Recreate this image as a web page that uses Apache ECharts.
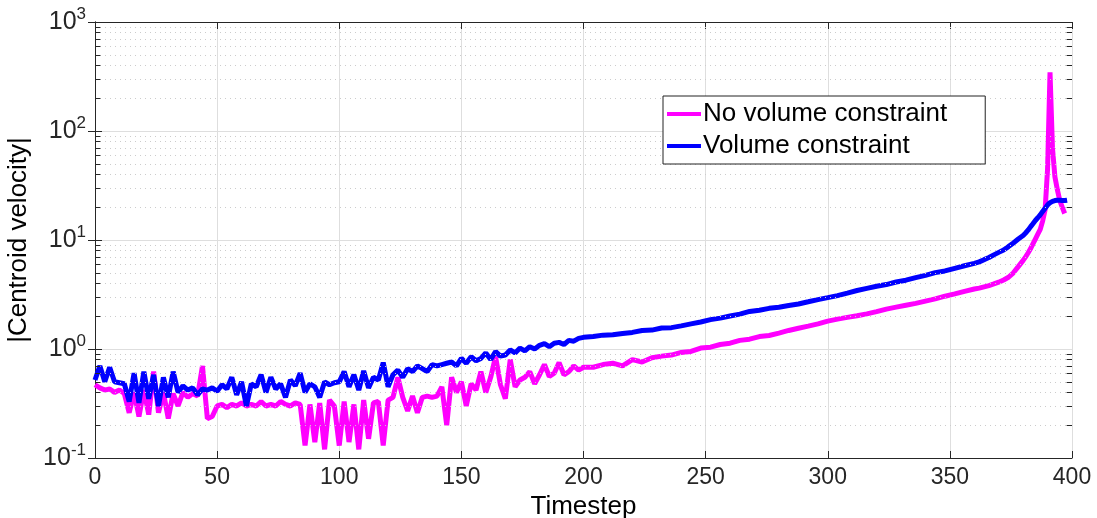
<!DOCTYPE html>
<html>
<head>
<meta charset="utf-8">
<script src="https://cdn.jsdelivr.net/npm/echarts@6/dist/echarts.min.js"></script>
<style>html,body{margin:0;padding:0;background:#fff}#c{width:1097px;height:518px}</style>
</head>
<body>
<div id="c"></div>
<script>
// ---- data ----
const timesteps = [
  0,2,4,6,8,10,12,14,16,18,
  20,22,24,26,28,30,32,34,36,38,
  40,42,44,46,48,50,52,54,56,58,
  60,62,64,66,68,70,72,74,76,78,
  80,82,84,86,88,90,92,94,96,98,
  100,102,104,106,108,110,112,114,116,118,
  120,122,124,126,128,130,132,134,136,138,
  140,142,144,146,148,150,152,154,156,158,
  160,162,164,166,168,170,172,174,176,178,
  180,182,184,186,188,190,192,194,196,198,
  200,
  204,208,212,216,220,224,228,232,236,240,
  244,248,252,256,260,264,268,272,276,280,
  284,288,292,296,300,304,308,312,316,320,
  324,328,332,336,340,344,348,352,356,360,
  362,364,366,368,370,372,374,376,378,380,
  381,382,383,384,385,386,387,388,389,390,
  391,392,393,394,395,396,397,398
];
const noVolumeConstraint = [
  0.47,0.44,0.42,0.43,0.40,0.42,0.39,0.26,0.40,0.24,
  0.42,0.25,0.62,0.26,0.40,0.23,0.39,0.30,0.40,0.36,
  0.39,0.37,0.70,0.23,0.24,0.30,0.31,0.29,0.31,0.30,
  0.32,0.30,0.31,0.30,0.33,0.30,0.31,0.30,0.33,0.31,
  0.30,0.32,0.31,0.13,0.31,0.14,0.32,0.12,0.34,0.30,
  0.13,0.33,0.14,0.31,0.12,0.34,0.15,0.32,0.33,0.13,
  0.34,0.36,0.55,0.36,0.27,0.37,0.26,0.36,0.37,0.36,
  0.37,0.45,0.20,0.55,0.40,0.50,0.30,0.48,0.42,0.62,
  0.40,0.55,0.85,0.47,0.35,0.80,0.45,0.52,0.55,0.62,
  0.48,0.58,0.72,0.56,0.60,0.75,0.58,0.62,0.70,0.64,
  0.68,
  0.68,0.72,0.74,0.70,0.80,0.76,0.83,0.86,0.88,0.93,
  0.95,1.02,1.04,1.10,1.13,1.20,1.23,1.30,1.33,1.40,
  1.48,1.55,1.62,1.70,1.80,1.88,1.95,2.02,2.10,2.20,
  2.32,2.42,2.52,2.62,2.75,2.88,3.05,3.20,3.38,3.55,
  3.62,3.72,3.82,3.95,4.10,4.30,4.55,5.00,5.70,6.50,
  7.0,7.6,8.3,9.2,10.2,11.3,12.5,15,19,45,
  345,70,38,29,23,20,17.5,null
];
const volumeConstraint = [
  0.52,0.70,0.50,0.68,0.50,0.49,0.48,0.33,0.60,0.32,
  0.62,0.35,0.58,0.30,0.55,0.36,0.62,0.40,0.46,0.42,
  0.44,0.38,0.43,0.42,0.44,0.41,0.47,0.43,0.55,0.38,
  0.50,0.30,0.48,0.45,0.58,0.40,0.55,0.43,0.48,0.36,
  0.52,0.46,0.60,0.40,0.48,0.45,0.36,0.50,0.47,0.49,
  0.50,0.62,0.45,0.58,0.42,0.63,0.44,0.55,0.52,0.75,
  0.45,0.58,0.64,0.55,0.66,0.62,0.70,0.66,0.62,0.72,
  0.70,0.72,0.74,0.76,0.70,0.82,0.74,0.85,0.78,0.82,
  0.92,0.80,0.95,0.86,0.88,0.98,0.92,1.02,0.96,1.05,
  1.00,1.08,1.12,1.05,1.13,1.15,1.10,1.20,1.18,1.25,
  1.28,
  1.30,1.34,1.35,1.39,1.42,1.48,1.49,1.56,1.57,1.63,
  1.70,1.77,1.86,1.92,2.01,2.09,2.21,2.27,2.36,2.42,
  2.51,2.59,2.71,2.84,2.96,3.09,3.26,3.44,3.60,3.76,
  3.90,4.12,4.28,4.52,4.74,5.02,5.20,5.50,5.80,6.10,
  6.30,6.60,6.90,7.30,7.70,8.10,8.70,9.40,10.2,11.0,
  11.6,12.3,13.2,14.1,15.1,16.0,17.0,18.3,19.6,21,
  22,22.6,23,23.2,23.2,23.0,23.0,23.2
];
const seriesNames = ['No volume constraint', 'Volume constraint'];
const xTicks = [0, 400, 50];           // min, max, interval
const yRange = [0.1, 1000];
const minorMultipliers = [2,3,4,5,6,7,8,9];
const decades = [0.1, 1, 10, 100];

const minorValues = [];
decades.forEach(d => minorMultipliers.forEach(m => minorValues.push(+(d*m).toPrecision(3))));
const minorGrid = minorValues.map(v => ({yAxis: v}));
// short inward minor tick marks on the left and right frame (tick length in x-data units)
const tickLen = 2.2;
const minorTickSegs = [];
minorValues.forEach(v => {
  minorTickSegs.push([{coord: [xTicks[0], v]}, {coord: [xTicks[0] + tickLen, v]}]);
  minorTickSegs.push([{coord: [xTicks[1] - tickLen, v]}, {coord: [xTicks[1], v]}]);
});

const font = 'Liberation Sans, Arial, Helvetica, sans-serif';
const axisCol = '#262626';

const chart = echarts.init(document.getElementById('c'), null, {renderer: 'canvas'});
chart.setOption({
  animation: false,
  backgroundColor: '#fff',
  textStyle: {fontFamily: font},
  grid: {left: 95, right: 25, top: 22, bottom: 60, containLabel: false, outerBoundsMode: 'none'},
  legend: {
    z: 50,
    orient: 'vertical', left: 663, top: 96,
    data: seriesNames,
    icon: 'rect', itemWidth: 34, itemHeight: 4, itemGap: 6,
    padding: [5, 38, 5, 4],
    backgroundColor: '#fff', borderColor: '#222', borderWidth: 1,
    textStyle: {fontFamily: font, fontSize: 26, color: '#000', padding: [0,0,0,-3]}
  },
  xAxis: [{
    type: 'value', min: xTicks[0], max: xTicks[1], interval: xTicks[2],
    name: 'Timestep', nameLocation: 'middle', nameGap: 33,
    nameTextStyle: {fontSize: 26, color: '#000', fontFamily: font},
    axisLine: {show: true, lineStyle: {color: axisCol, width: 1}},
    axisTick: {show: true, inside: true, length: 7, lineStyle: {color: axisCol}},
    axisLabel: {fontSize: 23, color: '#262626', margin: 8, fontFamily: font},
    splitLine: {show: true, lineStyle: {color: '#dedede', width: 1}}
  }, {
    type: 'value', position: 'top', min: xTicks[0], max: xTicks[1], interval: xTicks[2],
    axisLine: {show: true, onZero: false, lineStyle: {color: axisCol, width: 1}},
    axisTick: {show: true, inside: true, length: 7, lineStyle: {color: axisCol}},
    axisLabel: {show: false}, splitLine: {show: false}
  }],
  yAxis: [{
    type: 'log', logBase: 10, min: yRange[0], max: yRange[1],
    name: '|Centroid velocity|', nameLocation: 'middle', nameGap: 57, nameRotate: 90,
    nameTextStyle: {fontSize: 26, color: '#000', fontFamily: font},
    axisLine: {show: true, lineStyle: {color: axisCol, width: 1}},
    axisTick: {show: true, inside: true, length: 7, lineStyle: {color: axisCol}},
    axisLabel: {
      margin: 9, color: '#262626',
      formatter: v => '{b|10}{s|' + Math.round(Math.log10(v)) + '}',
      rich: {
        b: {fontSize: 25, fontFamily: font, color: '#262626', lineHeight: 32},
        s: {fontSize: 17, fontFamily: font, color: '#262626', verticalAlign: 'top', lineHeight: 32}
      }
    },
    splitLine: {show: true, lineStyle: {color: '#dedede', width: 1}}
  }, {
    type: 'log', logBase: 10, min: yRange[0], max: yRange[1], position: 'right',
    axisLine: {show: true, lineStyle: {color: axisCol, width: 1}},
    axisTick: {show: true, inside: true, length: 7, lineStyle: {color: axisCol}},
    axisLabel: {show: false}, splitLine: {show: false}
  }],
  series: [{
    name: 'minor', type: 'line', z: 1, data: [[0, 1]], showSymbol: false, symbol: 'none',
    lineStyle: {opacity: 0}, silent: true, legendHoverLink: false,
    markLine: {
      silent: true, symbol: ['none', 'none'], animation: false,
      label: {show: false},
      lineStyle: {type: [1, 4], color: '#cccccc', width: 1},
      emphasis: {disabled: true},
      data: minorGrid
    }
  }, {
    name: 'minorTicks', type: 'line', z: 6, data: [[0, 1]], showSymbol: false, symbol: 'none',
    lineStyle: {opacity: 0}, silent: true, legendHoverLink: false,
    markLine: {
      silent: true, symbol: ['none', 'none'], animation: false,
      label: {show: false},
      lineStyle: {type: 'solid', color: axisCol, width: 1},
      emphasis: {disabled: true},
      data: minorTickSegs
    }
  }, {
    name: seriesNames[0], type: 'line', z: 3, showSymbol: false, symbol: 'none',
    color: '#ff00ff',
    lineStyle: {color: '#ff00ff', width: 5},
    data: timesteps.map((t, i) => [t, noVolumeConstraint[i]])
  }, {
    name: seriesNames[1], type: 'line', z: 4, showSymbol: false, symbol: 'none',
    color: '#0000ff',
    lineStyle: {color: '#0000ff', width: 5},
    data: timesteps.map((t, i) => [t, volumeConstraint[i]])
  }]
});
</script>
</body>
</html>
